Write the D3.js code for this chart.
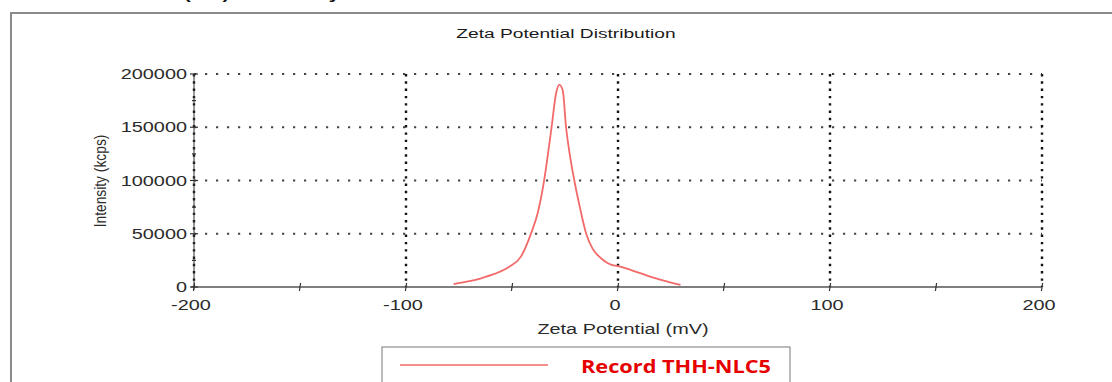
<!DOCTYPE html>
<html>
<head>
<meta charset="utf-8">
<script src="https://cdn.jsdelivr.net/npm/d3@7"></script>
<style>
    body { margin: 0; background: #fff; }
    svg { display: block; }
    text { font-family: 'Liberation Sans', Arial, sans-serif; fill: #2a2a2a; }
</style>
</head>
<body>
<svg id="vis" width="1112" height="382"></svg>
<script>
'use strict';

// zeta potential (mV) vs intensity (kcps)
var zeta = [-77.5, -70, -64.6, -58, -51.3, -45.8, -41, -37.9, -34.8, -33.2, -31.3, -29.2, -27.7,
    -26.1, -24.5, -22.8, -20.6, -18, -15, -12, -8, -5, -3.3, 1.4, 6, 10.8, 15.5, 20.3, 25, 29.5];
var intensity = [2800, 5500, 8200, 12500, 19000, 28500, 50400, 69200, 100500, 122400, 150500, 181900, 189700,
    185000, 150000, 125000, 100000, 75000, 50000, 36000, 27000, 22500, 21000, 19000, 16000, 12800, 9500, 6600, 4000, 1900];

var xTicks = [-200, -100, 0, 100, 200];
var xMinor = [-150, -50, 50, 150];
var yTicks = [0, 50000, 100000, 150000, 200000];
var yMinor = [25000, 75000, 125000, 175000];

var title = 'Zeta Potential Distribution';
var xLabel = 'Zeta Potential (mV)';
var yLabel = 'Intensity (kcps)';
var seriesName = 'Record THH-NLC5';

var svg = d3.select('#vis');

// the source image is stretched sideways, so the text is too
var stretch = 1.42;

var x = d3.scaleLinear().domain([-200, 200]).range([194, 1042]);
var y = d3.scaleLinear().domain([0, 200000]).range([287, 74]);

function wideText(g, str, tx, ty, anchor, size) {
    return g.append('text')
        .attr('transform', 'translate(' + tx + ',' + ty + ') scale(' + stretch + ',1)')
        .attr('text-anchor', anchor)
        .style('font-size', size + 'px')
        .text(str);
}

// header line of the page above, only its bottom edge shows
svg.append('text')
    .attr('x', 45).attr('y', -1.5)
    .attr('textLength', 295)
    .attr('lengthAdjust', 'spacingAndGlyphs')
    .style('font-size', '15px').style('font-weight', 'bold').style('fill', '#111')
    .text('Zeta Potential (mV) : Summary');

// outer frame
svg.append('rect')
    .attr('x', 11).attr('y', 13)
    .attr('width', 1120).attr('height', 400)
    .attr('fill', 'none')
    .attr('stroke', '#8a8a8a')
    .attr('stroke-width', 2);

var gridG = svg.append('g').attr('class', 'grid');

// horizontal dotted grid
gridG.selectAll('line.h')
    .data(yTicks.slice(1))
    .enter().append('line')
    .attr('class', 'h')
    .attr('x1', x(-200)).attr('x2', x(200))
    .attr('y1', function (d) { return y(d); })
    .attr('y2', function (d) { return y(d); })
    .attr('stroke', '#444')
    .attr('stroke-width', 2)
    .attr('stroke-dasharray', '2.2,8.8');

// vertical dense dotted grid
gridG.selectAll('line.v')
    .data(xTicks)
    .enter().append('line')
    .attr('class', 'v')
    .attr('x1', function (d) { return x(d); })
    .attr('x2', function (d) { return x(d); })
    .attr('y1', y(200000)).attr('y2', y(0))
    .attr('stroke', '#111')
    .attr('stroke-width', 2.4)
    .attr('stroke-dasharray', '2.4,4.9');

// axis lines
var axisG = svg.append('g').attr('class', 'axes');
axisG.append('line')
    .attr('x1', x(-200) - 3).attr('x2', x(200))
    .attr('y1', y(0)).attr('y2', y(0))
    .attr('stroke', '#555').attr('stroke-width', 1.3);
axisG.append('line')
    .attr('x1', x(-200)).attr('x2', x(-200))
    .attr('y1', y(200000)).attr('y2', y(0) + 3)
    .attr('stroke', '#333').attr('stroke-width', 1);

// x ticks cross the axis
axisG.selectAll('line.xt')
    .data(xTicks.concat(xMinor))
    .enter().append('line')
    .attr('class', 'xt')
    .attr('x1', function (d) { return x(d) + 0.6; })
    .attr('x2', function (d) { return x(d) - 0.6; })
    .attr('y1', y(0) - 4).attr('y2', y(0) + 4)
    .attr('stroke', '#333').attr('stroke-width', 1.2);

// y ticks cross the axis
axisG.selectAll('line.yt')
    .data(yTicks.concat(yMinor))
    .enter().append('line')
    .attr('class', 'yt')
    .attr('x1', function (d) { return x(-200) - (yMinor.indexOf(d) > -1 ? 2 : 4); })
    .attr('x2', function (d) { return x(-200) + (yMinor.indexOf(d) > -1 ? 2 : 4); })
    .attr('y1', function (d) { return y(d); })
    .attr('y2', function (d) { return y(d); })
    .attr('stroke', '#333').attr('stroke-width', 1.2);

var labelG = svg.append('g').attr('class', 'labels');
xTicks.forEach(function (d) {
    wideText(labelG, String(d), x(d) - 3, 310, 'middle', 14);
});
yTicks.forEach(function (d) {
    wideText(labelG, String(d), x(-200) - 7, y(d) + 5, 'end', 14);
});

wideText(labelG, title, 566, 38, 'middle', 13.5).style('fill', '#1a1a1a');
wideText(labelG, xLabel, 623, 334, 'middle', 14);
labelG.append('text')
    .attr('transform', 'translate(106,181) rotate(-90) scale(0.92,1.1)')
    .attr('text-anchor', 'middle')
    .style('font-size', '15px')
    .text(yLabel);

// the distribution curve
var points = zeta.map(function (v, i) { return [v, intensity[i]]; });
var line = d3.line()
    .x(function (d) { return x(d[0]); })
    .y(function (d) { return y(d[1]); })
    .curve(d3.curveMonotoneX);

svg.append('path')
    .datum(points)
    .attr('d', line)
    .attr('fill', 'none')
    .attr('stroke', '#f26a6a')
    .attr('stroke-width', 1.8);

// legend box
var legG = svg.append('g').attr('class', 'legend');
legG.append('rect')
    .attr('x', 382).attr('y', 347)
    .attr('width', 408).attr('height', 60)
    .attr('fill', '#fff')
    .attr('stroke', '#777')
    .attr('stroke-width', 1);
legG.append('line')
    .attr('x1', 400).attr('x2', 548)
    .attr('y1', 365).attr('y2', 365)
    .attr('stroke', '#f26a6a').attr('stroke-width', 1.5);
legG.append('text')
    .attr('x', 581).attr('y', 373)
    .attr('textLength', 190)
    .attr('lengthAdjust', 'spacingAndGlyphs')
    .style('font-family', '"Open Sans", sans-serif')
    .style('font-size', '18px')
    .style('font-weight', 'bold')
    .style('fill', '#e60000')
    .text(seriesName);
</script>
</body>
</html>
